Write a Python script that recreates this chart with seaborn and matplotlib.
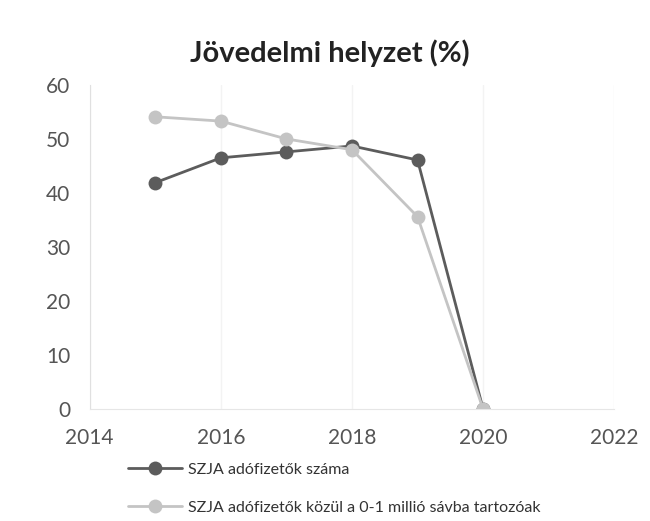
import pandas as pd
import matplotlib
matplotlib.use('Agg')
import matplotlib.pyplot as plt
import seaborn as sns

years = [2015, 2016, 2017, 2018, 2019, 2020]
szja_total = [41.9, 46.5, 47.6, 48.7, 46.1, 0]
szja_0_1m = [54.1, 53.3, 50.0, 48.0, 35.6, 0]
series_names = ['SZJA adófizetők száma', 'SZJA adófizetők közül a 0-1 millió sávba tartozóak']

df = pd.concat([
    pd.DataFrame({'year': years, 'value': szja_total, 'series': series_names[0]}),
    pd.DataFrame({'year': years, 'value': szja_0_1m, 'series': series_names[1]}),
], ignore_index=True)

sns.set_style('white')
plt.rcParams['font.family'] = ['Lato', 'DejaVu Sans']

fig = plt.figure(figsize=(6.5, 5.21), dpi=100)
ax = fig.add_axes([0.138, 0.215, 0.807, 0.622])

palette = {series_names[0]: '#5c5c5c', series_names[1]: '#c4c4c4'}
sns.lineplot(data=df, x='year', y='value', hue='series', palette=palette,
             marker='o', markersize=10, linewidth=2, markeredgewidth=0, ax=ax)

ax.set_xlim(2014, 2022)
ax.set_ylim(0, 60)
ax.set_xticks([2014, 2016, 2018, 2020, 2022])
ax.set_yticks(range(0, 61, 10))
ax.tick_params(labelsize=15, colors='#555555', length=0)
ax.tick_params(axis='x', pad=14)
ax.tick_params(axis='y', pad=14)
ax.xaxis.grid(True, color='#f3f3f3', linewidth=1)
ax.yaxis.grid(False)
for s in ['top', 'right']:
    ax.spines[s].set_visible(False)
ax.spines['left'].set_color('#e0e0e0')
ax.spines['bottom'].set_color('#e6e6e6')
ax.set_xlabel('')
ax.set_ylabel('')
fig.suptitle('Jövedelmi helyzet (%)', x=0.508, y=0.925, fontsize=21, fontweight='bold', color='#222222')

ax.legend(loc='upper left', bbox_to_anchor=(0.06, -0.145), frameon=False,
          fontsize=11.5, labelcolor='#333333', handlelength=3.4, handletextpad=0.4,
          labelspacing=1.5, borderaxespad=0)

fig.savefig('out.png', dpi=100, facecolor='white')
